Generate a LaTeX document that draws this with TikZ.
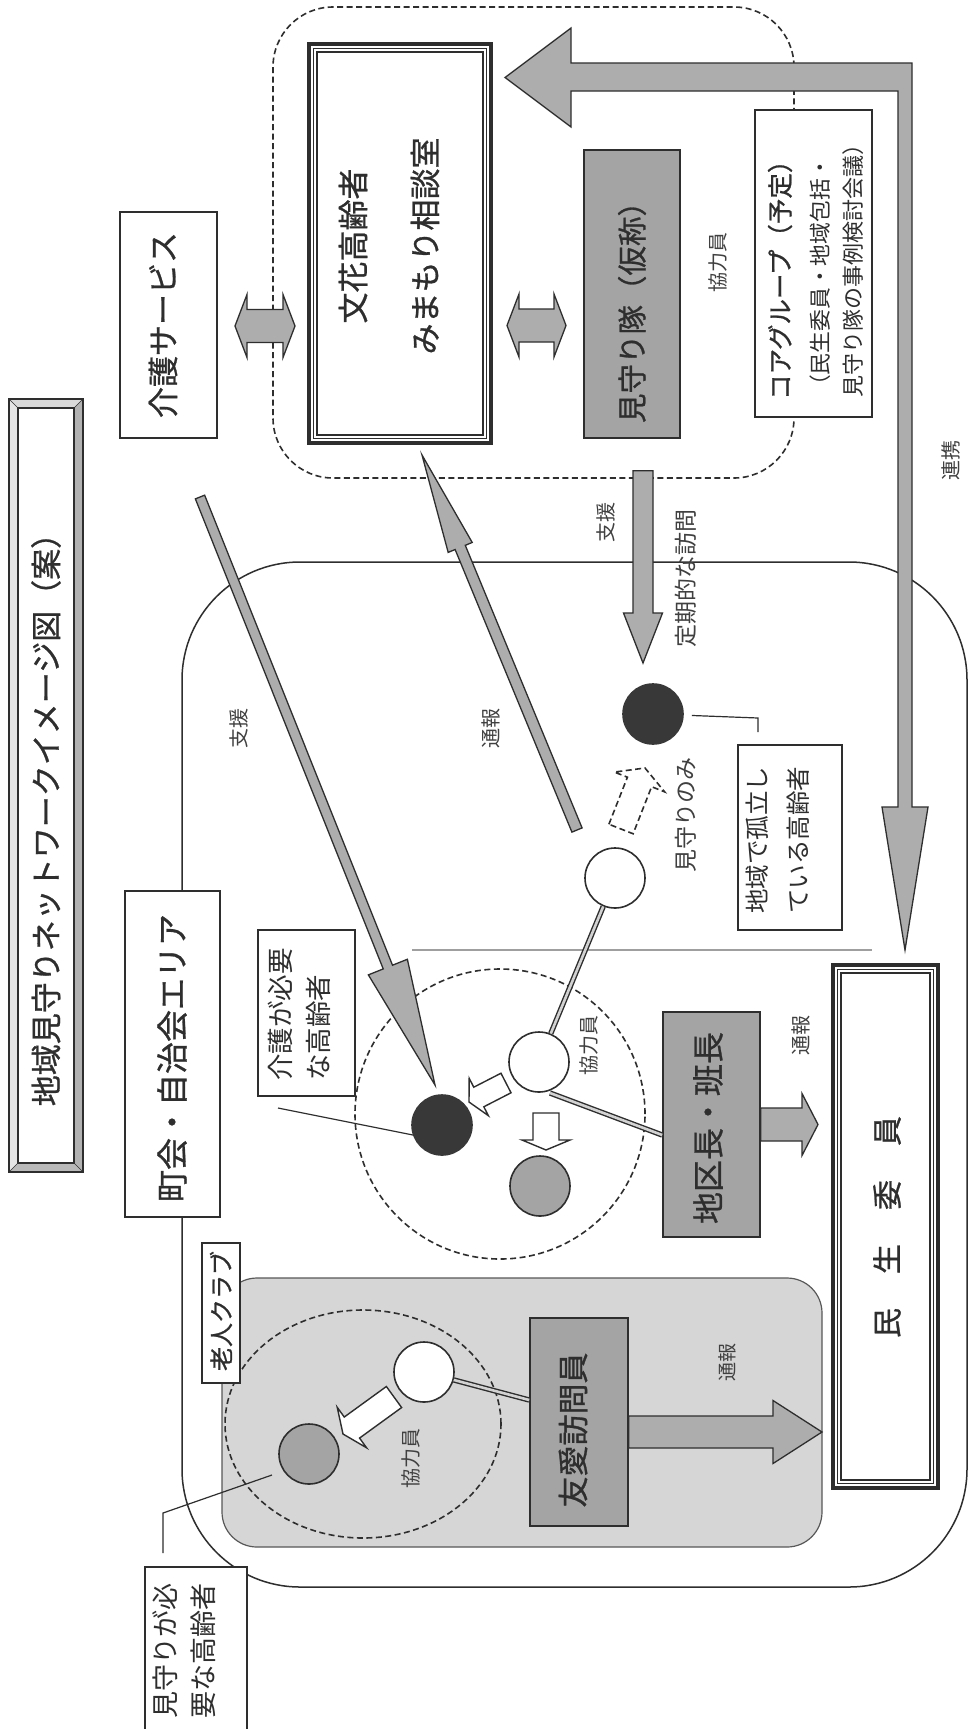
\documentclass[tikz,border=0pt]{standalone}
\usepackage{fontspec}
\setmainfont{Noto Sans CJK JP}
\newfontface\jpmed{Noto Sans CJK JP}[FakeBold=0.9]
\usetikzlibrary{calc}
\definecolor{ink}{HTML}{2E2E2E}
\definecolor{boxgray}{HTML}{A4A4A4}
\definecolor{arrgray}{HTML}{ADADAD}
\definecolor{blk}{HTML}{383838}
\definecolor{shade}{HTML}{D6D6D6}
\definecolor{lbl}{HTML}{404040}
\newcommand{\jfs}[1]{\fontsize{#1pt}{#1pt}\selectfont}
\newcommand{\blockarrow}[6]{%
  \path ($(#3)!#6!(#2)$) coordinate (ba-h);
  \draw[#1] ($(#2)!#4!90:(#3)$) -- ($(ba-h)!#4!-90:(#2)$) -- ($(ba-h)!#5!-90:(#2)$) -- (#3)
    -- ($(ba-h)!#5!90:(#2)$) -- ($(ba-h)!#4!90:(#2)$) -- ($(#2)!#4!-90:(#3)$) -- cycle;}
\newcommand{\dblarrow}[6]{%
  \path ($(#2)!#6!(#3)$) coordinate (da-1) ($(#3)!#6!(#2)$) coordinate (da-2);
  \draw[#1] (#2) -- ($(da-1)!#5!90:(#3)$) -- ($(da-1)!#4!90:(#3)$) -- ($(da-2)!#4!-90:(#2)$)
    -- ($(da-2)!#5!-90:(#2)$) -- (#3) -- ($(da-2)!#5!90:(#2)$) -- ($(da-2)!#4!90:(#2)$)
    -- ($(da-1)!#4!-90:(#3)$) -- ($(da-1)!#5!-90:(#3)$) -- cycle;}
\tikzset{
  box/.style={draw=ink, line width=1.6pt, fill=white, inner sep=0pt},
  graybox/.style={box, fill=boxgray},
  vtext/.style={rotate=90, inner sep=0pt, text=ink},
  lab/.style={rotate=90, inner sep=0pt, text=lbl, font=\jfs{20}},
  circ/.style={circle, draw=ink, line width=1.6pt, minimum size=60pt, inner sep=0pt},
  dashline/.style={draw=ink, line width=1.6pt, dash pattern=on 6pt off 3.5pt},
  dbl/.style={draw=ink, line width=1.4pt, double=gray!35, double distance=2.6pt},
  leader/.style={draw=ink, line width=1.2pt},
  garrow/.style={draw=ink, line width=1.3pt, fill=arrgray, line join=miter},
  warrow/.style={draw=ink, line width=1.4pt, fill=white, line join=miter},
}
\begin{document}
\begin{tikzpicture}[x=1pt,y=-1pt]
\useasboundingbox (0,0) rectangle (969,1729);
\clip (0,0) rectangle (969,1729);
\fill[white] (0,0) rectangle (969,1729);

% ---------- title (bevelled) ----------
\fill[gray!30] (9,399) -- (83,399) -- (74,408) -- (18,408) -- cycle;
\fill[gray!60] (83,399) -- (83,1172) -- (74,1163) -- (74,408) -- cycle;
\fill[gray!55] (9,1172) -- (83,1172) -- (74,1163) -- (18,1163) -- cycle;
\fill[gray!20] (9,399) -- (18,408) -- (18,1163) -- (9,1172) -- cycle;
\draw[ink, line width=1.2pt] (9,399) rectangle (83,1172);
\draw[ink, line width=0.6pt] (9,399) -- (18,408) (83,399) -- (74,408) (9,1172) -- (18,1163) (83,1172) -- (74,1163);
\node[draw=ink, line width=1.2pt, fill=white, minimum width=56pt, minimum height=755pt, inner sep=0pt] (titlebox) at (46,785.5) {};
\node[vtext, font=\jpmed\jfs{31}] (t-title) at (46,812) {地域見守りネットワークイメージ図（案）};

% ---------- areas ----------
\draw[ink, line width=1.5pt, rounded corners=118pt] (182,562) rectangle (967,1587);
\draw[dashline, rounded corners=60pt] (273,7) rectangle (794,478);
\draw[draw=ink!80, line width=1.2pt, fill=shade, rounded corners=35pt] (222,1278) rectangle (822,1547);
\draw[dashline] (363,1424) ellipse [x radius=138pt, y radius=114pt];
\draw[dashline] (500,1114) circle [radius=145pt];
\draw[gray!75, line width=1.6pt] (412,950) -- (872,950);

% ---------- big L arrow (連携) ----------
\coordinate (renkeiA) at (505,77.5);
\coordinate (renkeiB) at (905,950);
\draw[garrow] (renkeiA) -- (571,28) -- (571,63) -- (912,63) -- (912,807) -- (928,807) -- (renkeiB)
  -- (882,807) -- (898,807) -- (898,91) -- (571,91) -- (571,127) -- cycle;
\node[lab] (t-renkei) at (951,460) {連携};

% ---------- top group ----------
\node[box, minimum width=97pt, minimum height=226pt] (kaigo) at (168.5,325) {};
\node[vtext, font=\jpmed\jfs{31}] (t-kaigo) at (163,325) {介護サービス};

\node[box, line width=4pt, minimum width=182pt, minimum height=399pt] (bunka) at (400,243.5) {};
\draw[ink, line width=1.1pt] ($(bunka.north west)+(6.5,6.5)$) rectangle ($(bunka.south east)+(-6.5,-6.5)$);
\draw[ink, line width=1.5pt] ($(bunka.north west)+(10,10)$) rectangle ($(bunka.south east)+(-10,-10)$);
\node[vtext, align=center, font=\jpmed\fontsize{31pt}{72pt}\selectfont] (t-bunka) at (389,246) {文花高齢者\\みまもり相談室};

\node[graybox, minimum width=96pt, minimum height=288pt] (mimamori) at (632,294) {};
\node[vtext, font=\jpmed\jfs{29.5}] (t-mimamori) at (632,305) {見守り隊（仮称）};
\node[lab] (t-kyo1) at (718,262) {協力員};

\node[box, minimum width=117pt, minimum height=307pt] (core) at (813.5,263.5) {};
\node[vtext, anchor=west, font=\jpmed\jfs{25.5}] (t-core1) at (780,400) {コアグループ（予定）};
\node[vtext, anchor=west, font=\jfs{21.8}] (t-core2) at (820,397) {（民生委員・地域包括・};
\node[vtext, anchor=west, font=\jfs{22}] (t-core3) at (853,398) {見守り隊の事例検討会議）};

\coordinate (d1a) at (235,326); \coordinate (d1b) at (295,326);
\dblarrow{garrow}{d1a}{d1b}{16.5pt}{31.5pt}{12pt}
\coordinate (d2a) at (507,325.5); \coordinate (d2b) at (566,325.5);
\dblarrow{garrow}{d2a}{d2b}{16.5pt}{31.5pt}{12pt}

% ---------- area boxes ----------
\node[box, minimum width=95pt, minimum height=326pt] (chokai) at (172.5,1054) {};
\node[vtext, font=\jpmed\jfs{32}] (t-chokai) at (172,1058) {町会・自治会エリア};

\node[box, minimum width=97pt, minimum height=166pt] (kaigohitsuyo) at (306.5,1013) {};
\node[vtext, anchor=west, align=left, font=\fontsize{26.5pt}{38pt}\selectfont] (t-kaigohitsuyo) at (299,1081) {介護が必要\\な高齢者};

\node[box, minimum width=104pt, minimum height=185pt] (koritsu) at (790,837.5) {};
\node[vtext, anchor=west, align=left, font=\fontsize{24.5pt}{41pt}\selectfont] (t-koritsu) at (777.5,914) {地域で孤立し\\ている高齢者};

\node[graybox, minimum width=97pt, minimum height=225pt] (chikucho) at (711.5,1124.5) {};
\node[vtext, font=\jpmed\jfs{32}] (t-chikucho) at (708,1128) {地区長・班長};

\node[box, line width=4pt, minimum width=105pt, minimum height=523pt] (minsei) at (885.5,1226.5) {};
\draw[ink, line width=1.1pt] ($(minsei.north west)+(6.5,6.5)$) rectangle ($(minsei.south east)+(-6.5,-6.5)$);
\draw[ink, line width=1.5pt] ($(minsei.north west)+(10,10)$) rectangle ($(minsei.south east)+(-10,-10)$);
\node[vtext, font=\jpmed\jfs{30}] (t-minsei) at (887,1227) {民\hspace{34pt}生\hspace{34pt}委\hspace{34pt}員};

\node[graybox, minimum width=98pt, minimum height=208pt] (yuai) at (579,1422) {};
\node[vtext, font=\jpmed\jfs{31}] (t-yuai) at (573,1430) {友愛訪問員};

\node[box, line width=1.4pt, minimum width=38pt, minimum height=140pt] (rojin) at (221,1313) {};
\node[vtext, font=\jpmed\jfs{24}] (t-rojin) at (221,1311) {老人クラブ};

\node[box, anchor=north, minimum width=102pt, minimum height=200pt] (mhbox) at (196,1566) {};
\node[vtext, anchor=west, align=left, font=\fontsize{27pt}{38pt}\selectfont] (t-mh) at (184,1719) {見守りが必\\要な高齢者};

% ---------- gray arrows ----------
\coordinate (s1a) at (200,497); \coordinate (s1b) at (435,1085);
\blockarrow{garrow}{s1a}{s1b}{5pt}{21pt}{127pt}
\node[lab] (t-shien1) at (239,728) {支援};

\coordinate (t1a) at (577,830); \coordinate (t1b) at (422,455);
\blockarrow{garrow}{t1a}{t1b}{5.5pt}{13pt}{100pt}
\node[lab] (t-tsuho1) at (491,728) {通報};

\coordinate (s2a) at ([yshift=-32pt]mimamori.south -| 643,0);
\coordinate (s2b) at (643,663);
\blockarrow{garrow}{s2a}{s2b}{10pt}{19.5pt}{50pt}
\node[lab] (t-shien2) at (606,522) {支援};
\node[lab, font=\jfs{23}] (t-teiki) at (686,578) {定期的な訪問};

\coordinate (t2a) at (chikucho.east); \coordinate (t2b) at ([xshift=-13pt]minsei.west |- chikucho.east);
\blockarrow{garrow}{t2a}{t2b}{16.5pt}{31pt}{16pt}
\node[lab] (t-tsuho2) at (801,1035) {通報};

\coordinate (t3a) at ([yshift=-10pt]yuai.east); \coordinate (t3b) at (822,1432);
\blockarrow{garrow}{t3a}{t3b}{16pt}{31.5pt}{49pt}
\node[lab, font=\jfs{19}] (t-tsuho3) at (727,1362) {通報};

% ---------- circles & links ----------
\node[circ, draw=blk, fill=blk] (bc1) at (653,714) {};
\node[circ, fill=white] (wc1) at (615,878) {};
\node[circ, draw=blk, fill=blk] (bc2) at (442,1125) {};
\node[circ, fill=white] (wc2) at (539,1062) {};
\node[circ, fill=boxgray] (gc2) at (540,1186) {};
\node[circ, fill=white] (wc3) at (424,1372) {};
\node[circ, fill=boxgray] (gc3) at (309,1454) {};

\draw[dbl] (wc1) -- (wc2);
\draw[dbl] ($(wc2)+(11,31)$) -- ([yshift=-10.5pt]chikucho.west);
\draw[dbl] (wc3) -- ([yshift=22pt]yuai.west);

\coordinate (ld1a) at (758,718); \coordinate (ld1b) at (758,732);
\draw[leader] ($(bc1)!39pt!(ld1a)$) -- (ld1a) -- (ld1b);
\coordinate (ld2) at (278,1108);
\draw[leader] ($(bc2)+(-29,10)$) -- (ld2);
\coordinate (ld3a) at (163,1513); \coordinate (ld3b) at (163,1553);
\draw[leader] ($(gc3)+(-37,21)$) -- (ld3a) -- (ld3b);

% white block arrows
\coordinate (w1a) at (506,1083); \coordinate (w1b) at (469,1102);
\blockarrow{warrow}{w1a}{w1b}{11pt}{21pt}{11pt}
\coordinate (w2a) at (546,1113); \coordinate (w2b) at (546,1150);
\blockarrow{warrow}{w2a}{w2b}{13pt}{24pt}{10pt}
\coordinate (w3a) at (394,1397); \coordinate (w3b) at (343,1434);
\blockarrow{warrow}{w3a}{w3b}{13pt}{25pt}{11pt}
\coordinate (m1a) at (621,829); \coordinate (m1b) at (645,768);
\blockarrow{draw=ink, line width=1.6pt, dash pattern=on 6pt off 3.5pt, line join=miter}{m1a}{m1b}{13pt}{27pt}{15pt}
\node[lab, font=\jfs{23}] (t-mimamorinomi) at (686,815) {見守りのみ};

\node[lab] (t-kyo2) at (589,1045) {協力員};
\node[lab] (t-kyo3) at (411,1458) {協力員};
\end{tikzpicture}
\end{document}
